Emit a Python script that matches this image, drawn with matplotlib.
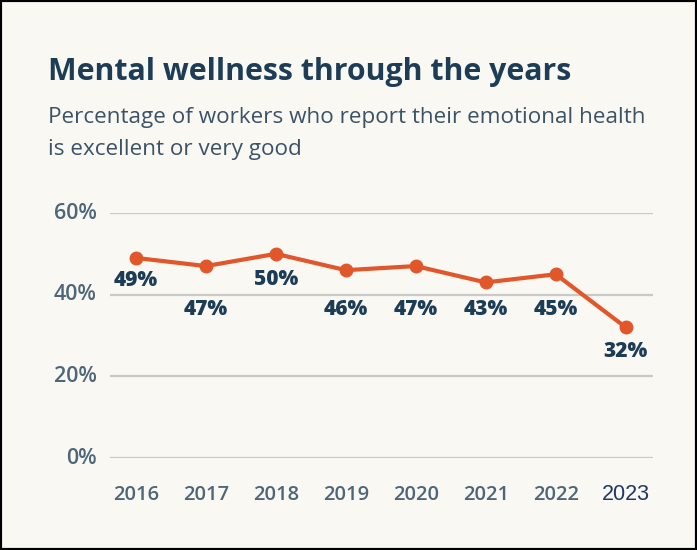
import matplotlib.pyplot as plt
from matplotlib.patches import Rectangle

years = [2016, 2017, 2018, 2019, 2020, 2021, 2022, 2023]
wellness = [49, 47, 50, 46, 47, 43, 45, 32]
y_ticks = [0, 20, 40, 60]

# label drop below each point, in pixels
label_drop = [23, 43, 26, 39, 43, 27, 35, 24]

bg = '#f9f8f3'
navy = '#1d3d57'
muted = '#4d6678'
orange = '#e2562b'

fig = plt.figure(figsize=(6.97, 5.5), dpi=100, facecolor=bg)
ax = fig.add_axes([110 / 697, 1 - 458 / 550, 543 / 697, 245 / 550])
ax.set_facecolor(bg)

ax.set_xlim(2015.63, 2023.39)
ax.set_ylim(0, 60)

for t in y_ticks:
    ax.axhline(t, color='#c9c9c6', lw=1.6, zorder=1)

ax.plot(years, wellness, color=orange, lw=3, marker='o', ms=9,
        zorder=3, solid_joinstyle='round')

for x, v, d in zip(years, wellness, label_drop):
    ax.annotate(f'{v}%', (x, v), xytext=(0, -d * 0.72), textcoords='offset points',
                ha='center', va='center', fontsize=15, fontweight='heavy',
                color=navy, family='Open Sans')

for s in ax.spines.values():
    s.set_visible(False)
ax.tick_params(length=0)
ax.set_xticks([])
ax.set_yticks([])

for t in y_ticks:
    ax.annotate(f'{t}%', (2015.63, t), xytext=(-13 * 0.72, 0), textcoords='offset points',
                ha='right', va='center', fontsize=15.5, color=muted,
                family='Open Sans', fontweight='semibold')

for yr in years:
    last = yr == years[-1]
    ax.annotate(str(yr), (yr, 0), xytext=(0, -37 * 0.72), textcoords='offset points',
                ha='center', va='center', fontsize=15.5 if last else 14.5,
                color='#1f3864' if last else muted,
                fontweight='normal' if last else 'semibold',
                family='Liberation Sans' if last else 'Open Sans')

fig.text(48 / 697, 1 - 72 / 550, 'Mental wellness through the years',
         fontsize=21.8, fontweight='bold', color=navy, family='Open Sans',
         ha='left', va='center')
fig.text(48 / 697, 1 - 117 / 550, 'Percentage of workers who report their emotional health',
         fontsize=16.2, color='#3c5366', family='Open Sans', ha='left', va='center')
fig.text(48 / 697, 1 - 150 / 550, 'is excellent or very good',
         fontsize=16.2, color='#3c5366', family='Open Sans', ha='left', va='center')

fig.patches.append(Rectangle((0, 0), 1, 1, transform=fig.transFigure, fill=False,
                             edgecolor='black', lw=3))

fig.savefig('out.png', dpi=100, facecolor=bg)
